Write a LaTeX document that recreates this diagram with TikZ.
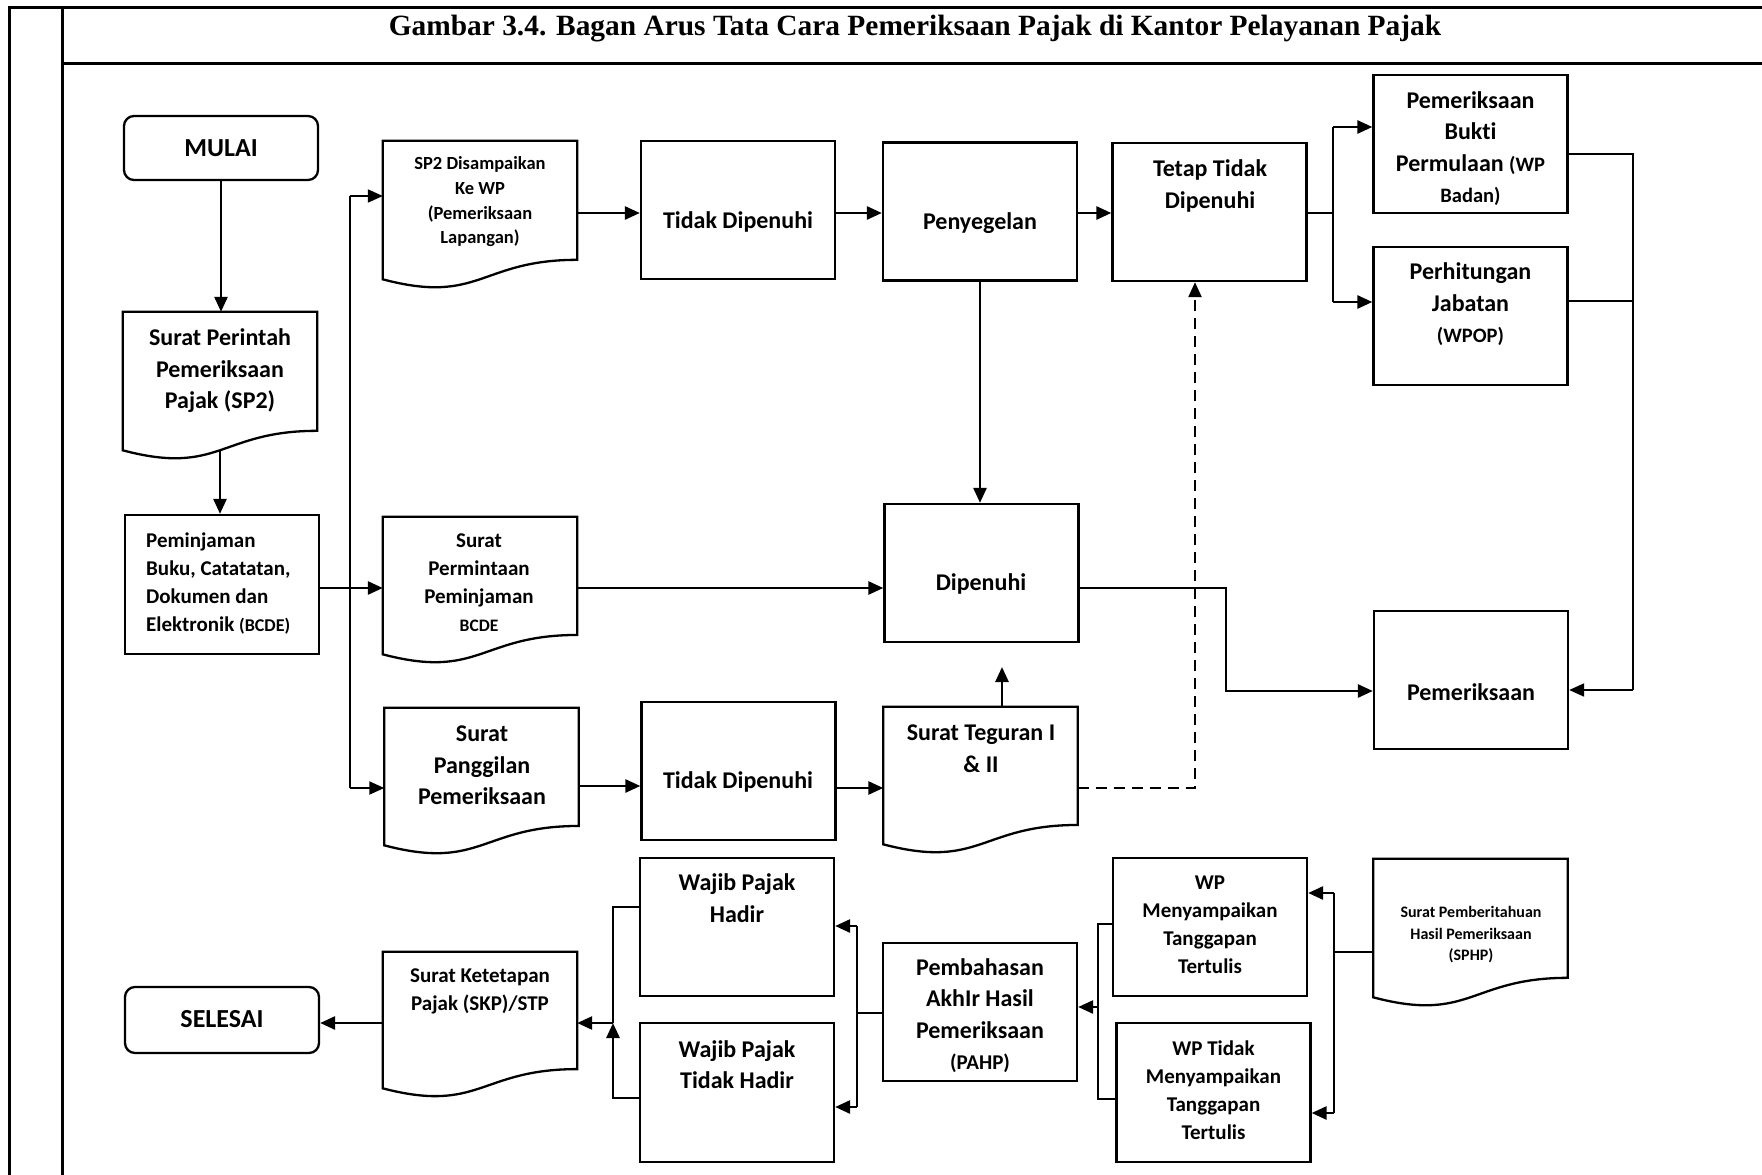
\documentclass[tikz,border=0pt]{standalone}
\usepackage{fontspec}
\setmainfont{Carlito}[Ligatures={NoCommon}]
\newfontfamily\titlefont{Liberation Serif}
\usetikzlibrary{arrows.meta,calc}
\newcommand\fA{\fontsize{24pt}{31.5pt}\selectfont}
\newcommand\fB{\fontsize{21pt}{28pt}\selectfont}
\newcommand\fC{\fontsize{18.5pt}{24.7pt}\selectfont}
\newcommand\fD{\fontsize{16pt}{21.5pt}\selectfont}
\newcommand\fE{\fontsize{26pt}{30pt}\selectfont}
\newcommand\mlines[1]{\begin{tabular}{@{}c@{}}#1\end{tabular}}
\newcommand\docpath[1]{%
  \draw[shapeline] (#1.north west) -- (#1.north east) -- ($(#1.north east)!0.86!(#1.south east)$)
    .. controls ($(#1.north)!0.86!(#1.south)$) and ($(#1.north)!1.187!(#1.south)$) ..
    ($(#1.north west)!1.001!(#1.south west)$) -- cycle;}
\tikzset{
  shapeline/.style={line width=2.3pt, line join=miter},
  boxnode/.style={draw, shapeline, rectangle, minimum width=194pt, minimum height=138pt, inner sep=0pt},
  docnode/.style={rectangle, minimum width=194pt, inner sep=0pt},
  termnode/.style={draw, shapeline, rectangle, rounded corners=10pt, minimum width=194pt, inner sep=0pt},
  txt/.style={inner sep=0pt, align=center},
  frameline/.style={line width=3pt},
  thinline/.style={line width=2pt},
  arr/.style={line width=2pt, -{Triangle[length=15pt,width=13pt]}},
  arrK/.style={line width=2.7pt, -{Triangle[length=15pt,width=13pt]}},
  dashline/.style={line width=2.2pt, dash pattern=on 11pt off 7pt, -{Triangle[length=15pt,width=13pt]}}
}
\begin{document}
\begin{tikzpicture}[x=1pt,y=-1pt]
\useasboundingbox (0,0) rectangle (1762,1175);
% frame
\coordinate (fTL) at (9,7);
\coordinate (fTR) at (1762,7);
\coordinate (fBL) at (9,1175);
\coordinate (fIT) at (62,7);
\coordinate (fIB) at (62,1175);
\coordinate (fSL) at (62,63);
\coordinate (fSR) at (1762,63);
\draw[frameline] (fTR) -- (fTL) -- (fBL);
\draw[frameline] (fIT) -- (fIB);
\draw[frameline] (fSL) -- (fSR);
\node[inner sep=0pt, anchor=base, font=\titlefont\bfseries\fontsize{29.4pt}{32pt}\selectfont] (title) at (915,35.5)
  {Gambar 3.4. Bagan Arus Tata Cara Pemeriksaan Pajak di Kantor Pelayanan Pajak};

% ---- shapes ----
\node[termnode, minimum height=64pt] (mulai) at (221,148) {};
\node[docnode, minimum height=138pt] (sp2) at (220,381) {};
\node[boxnode, minimum height=139pt] (pinjam) at (222,584.5) {};
\node[docnode, minimum height=138pt] (sp2d) at (480,210) {};
\node[docnode, minimum height=137pt] (spmt) at (480,585.5) {};
\node[docnode, minimum height=137pt] (spgl) at (481.5,776.5) {};
\node[boxnode] (tdp1) at (738,210) {};
\node[boxnode] (tdp3) at (738.5,771) {};
\node[boxnode] (peny) at (980,211.5) {};
\node[boxnode] (dip) at (981.5,573) {};
\node[docnode, minimum height=137pt] (tegur) at (980.5,775.5) {};
\node[boxnode] (tetap) at (1209.5,212) {};
\node[boxnode] (bukti) at (1470.5,144) {};
\node[boxnode] (hitung) at (1470.5,316) {};
\node[boxnode] (pemer) at (1471,680) {};
\node[termnode, minimum height=66pt] (selesai) at (222,1020) {};
\node[docnode, minimum height=136pt] (skp) at (480,1020) {};
\node[boxnode] (hadir) at (737,927) {};
\node[boxnode, minimum height=139pt] (thadir) at (737,1092.5) {};
\node[boxnode] (pahp) at (980,1012) {};
\node[boxnode] (wpm) at (1210,927) {};
\node[boxnode, minimum height=139pt] (wpt) at (1213.5,1092.5) {};
\node[docnode, minimum height=138pt] (sphp) at (1470.5,928) {};
\docpath{sp2}
\docpath{sp2d}
\docpath{spmt}
\docpath{spgl}
\docpath{tegur}
\docpath{skp}
\docpath{sphp}

% ---- texts ----
\node[txt, font=\bfseries\fE] (mulaiT) at (mulai) {MULAI};
\node[txt, font=\bfseries\fE] (selesaiT) at (222,1019) {SELESAI};
\node[txt, font=\bfseries\fA] (sp2T) at (220,371) {\mlines{Surat Perintah\\Pemeriksaan\\Pajak (SP2)}};
\node[txt, font=\bfseries\fB, anchor=west] (pinjamT) at (146,583.5)
  {\begin{tabular}{@{}l@{}}Peminjaman\\Buku, Catatatan,\\Dokumen dan\\Elektronik {\fontsize{18pt}{28pt}\selectfont(BCDE)}\end{tabular}};
\node[txt, font=\bfseries\fC] (sp2dT) at (480,202) {\mlines{SP2 Disampaikan\\Ke WP\\(Pemeriksaan\\Lapangan)}};
\node[txt, font=\bfseries\fB] (spmtT) at (479,583.5) {\mlines{Surat\\Permintaan\\Peminjaman\\{\fontsize{17.5pt}{28pt}\selectfont BCDE}}};
\node[txt, font=\bfseries\fA] (spglT) at (482,767) {\mlines{Surat\\Panggilan\\Pemeriksaan}};
\node[txt, font=\bfseries\fA] (tdp1T) at (738,222) {Tidak Dipenuhi};
\node[txt, font=\bfseries\fA] (tdp3T) at (738,782) {Tidak Dipenuhi};
\node[txt, font=\bfseries\fA] (penyT) at (980,223) {Penyegelan};
\node[txt, font=\bfseries\fA] (dipT) at (981,584) {Dipenuhi};
\node[txt, font=\bfseries\fA] (tegurT) at (981,750) {\mlines{Surat Teguran I\\\& II}};
\node[txt, font=\bfseries\fA] (tetapT) at (1210,186) {\mlines{Tetap Tidak\\Dipenuhi}};
\node[txt, font=\bfseries\fA] (buktiT) at (1470.5,149) {\mlines{Pemeriksaan\\Bukti\\Permulaan {\fontsize{20.5pt}{31.5pt}\selectfont(WP}\\{\fontsize{20.5pt}{31.5pt}\selectfont Badan)}}};
\node[txt, font=\bfseries\fA] (hitungT) at (1470.5,305) {\mlines{Perhitungan\\Jabatan\\{\fontsize{20.5pt}{31.5pt}\selectfont(WPOP)}}};
\node[txt, font=\bfseries\fA] (pemerT) at (1471,692) {Pemeriksaan};
\node[txt, font=\bfseries\fB] (skpT) at (480,991) {\mlines{Surat Ketetapan\\Pajak (SKP)/STP}};
\node[txt, font=\bfseries\fA] (hadirT) at (737,900) {\mlines{Wajib Pajak\\Hadir}};
\node[txt, font=\bfseries\fA] (thadirT) at (737,1066.5) {\mlines{Wajib Pajak\\Tidak Hadir}};
\node[txt, font=\bfseries\fA] (pahpT) at (980,1016) {\mlines{Pembahasan\\AkhIr Hasil\\Pemeriksaan\\{\fontsize{21pt}{31.5pt}\selectfont(PAHP)}}};
\node[txt, font=\bfseries\fB] (wpmT) at (1210,926) {\mlines{WP\\Menyampaikan\\Tanggapan\\Tertulis}};
\node[txt, font=\bfseries\fB] (wptT) at (1213.5,1091.5) {\mlines{WP Tidak\\Menyampaikan\\Tanggapan\\Tertulis}};
\node[txt, font=\bfseries\fD] (sphpT) at (1471,935) {\mlines{Surat Pemberitahuan\\Hasil Pemeriksaan\\(SPHP)}};

% ---- connectors ----
\draw[arrK] (mulai.south) -- (mulai.south |- sp2.north);
\draw[arrK] (sp2.south) -- (sp2.south |- pinjam.north);
% left branch
\coordinate (bv1) at (350,196);
\coordinate (bv2) at (350,788);
\coordinate (bm) at (350,588);
\draw[thinline] (bv1) -- (bv2);
\draw[arr] (bv1) -- (sp2d.west |- bv1);
\draw[arr] (bv2) -- (spgl.west |- bv2);
\draw[arrK] (pinjam.east |- bm) -- (spmt.west |- bm);
% row 1
\coordinate (r1) at (0,213);
\draw[arrK] (sp2d.east |- r1) -- (tdp1.west |- r1);
\draw[arrK] (tdp1.east |- r1) -- (peny.west |- r1);
\draw[arrK] (peny.east |- r1) -- (tetap.west |- r1);
% tetap branch
\coordinate (tb1) at (1333,127);
\coordinate (tb2) at (1333,302);
\coordinate (tbm) at (1333,213);
\draw[thinline] (tetap.east |- tbm) -- (tbm);
\draw[thinline] (tb1) -- (tb2);
\draw[arrK] (tb1) -- (bukti.west |- tb1);
\draw[arrK] (tb2) -- (hitung.west |- tb2);
% right merge
\coordinate (rm1) at (1633,154);
\coordinate (rm2) at (1633,301);
\coordinate (rm3) at (1633,690);
\draw[thinline] (bukti.east |- rm1) -- (rm1) -- (rm3);
\draw[thinline] (hitung.east |- rm2) -- (rm2);
\draw[arr] (rm3) -- (pemer.east |- rm3);
% middle
\draw[arrK] (peny.south) -- (peny.south |- dip.north);
\draw[arrK] (spmt.east |- bm) -- (dip.west |- bm);
\coordinate (dp1) at (1226,588);
\coordinate (dp2) at (1226,691);
\draw[arrK] (dip.east |- dp1) -- (dp1) -- (dp2) -- (pemer.west |- dp2);
% row 3
\coordinate (r3a) at (0,786);
\coordinate (r3b) at (0,788);
\draw[arrK] (spgl.east |- r3a) -- (tdp3.west |- r3a);
\draw[arrK] (tdp3.east |- r3b) -- (tegur.west |- r3b);
\coordinate (tegtip) at (1002,667);
\draw[arrK] (tegtip |- tegur.north) -- (tegtip);
\coordinate (dsh) at (1195,788);
\draw[dashline] (tegur.east |- dsh) -- (dsh) -- (dsh |- tetap.south);
% bottom
\coordinate (sq1) at (1334,952);
\coordinate (sq2) at (1334,893);
\coordinate (sq3) at (1334,1113);
\draw[thinline] (sphp.west |- sq1) -- (sq1);
\draw[thinline] (sq2) -- (sq3);
\draw[arrK] (sq2) -- (wpm.east |- sq2);
\draw[arrK] (sq3) -- (wpt.east |- sq3);
\coordinate (wq1) at (1098,924);
\coordinate (wq2) at (1098,1099);
\coordinate (wq3) at (1098,1007);
\draw[thinline] (wpm.west |- wq1) -- (wq1) -- (wq2) -- (wpt.west |- wq2);
\draw[arrK] (wq3) -- (pahp.east |- wq3);
\coordinate (pq1) at (857,926);
\coordinate (pq2) at (857,1107);
\coordinate (pq3) at (857,1013);
\draw[thinline] (pahp.west |- pq3) -- (pq3);
\draw[thinline] (pq1) -- (pq2);
\draw[arrK] (pq1) -- (hadir.east |- pq1);
\draw[arrK] (pq2) -- (thadir.east |- pq2);
\coordinate (hq1) at (613,907);
\coordinate (hq2) at (613,1098);
\coordinate (hq3) at (613,1023);
\draw[thinline] (hadir.west |- hq1) -- (hq1) -- (hq3);
\draw[arrK] (thadir.west |- hq2) -- (hq2) -- (hq3);
\draw[arrK] (hq3) -- (skp.east |- hq3);
\draw[arrK] (skp.west |- hq3) -- (selesai.east |- hq3);
\end{tikzpicture}
\end{document}
